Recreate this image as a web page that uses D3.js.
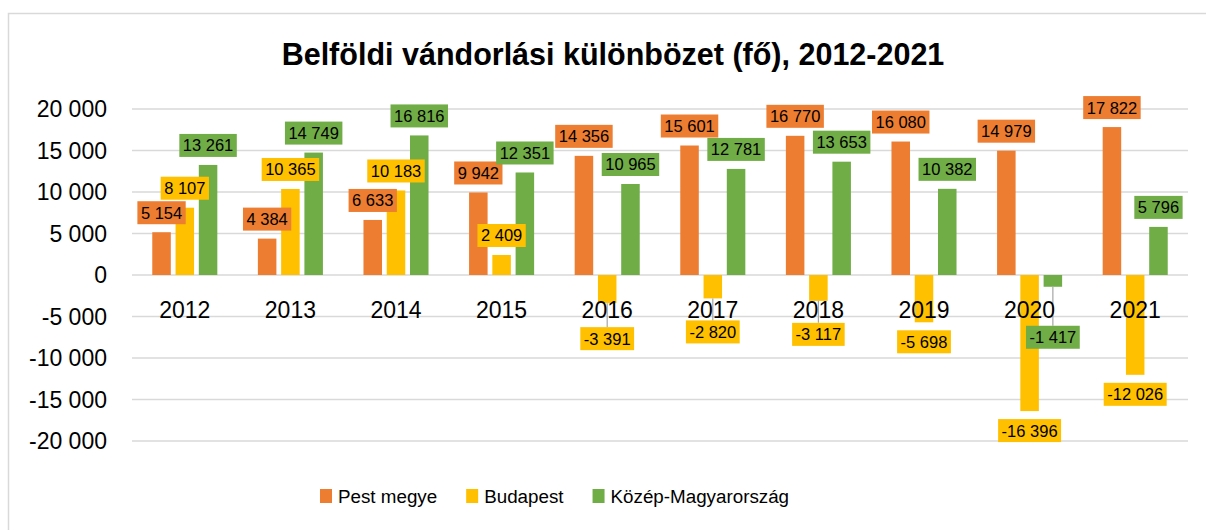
<!DOCTYPE html>
<html>
<head>
<meta charset="utf-8">
<script src="https://cdn.jsdelivr.net/npm/d3@7"></script>
<style>
body { margin: 0; background: #fff; }
text { font-family: "Liberation Sans", Arial, sans-serif; fill: #000; }
</style>
</head>
<body>
<svg id="chart"></svg>
<script>
var years = ["2012","2013","2014","2015","2016","2017","2018","2019","2020","2021"];
var seriesNames = ["Pest megye", "Budapest", "Közép-Magyarország"];
var pest = [5154, 4384, 6633, 9942, 14356, 15601, 16770, 16080, 14979, 17822];
var budapest = [8107, 10365, 10183, 2409, -3391, -2820, -3117, -5698, -16396, -12026];
var kozep = [13261, 14749, 16816, 12351, 10965, 12781, 13653, 10382, -1417, 5796];
var yTicks = [-20000, -15000, -10000, -5000, 0, 5000, 10000, 15000, 20000];

var colors = ["#ED7D31", "#FFC000", "#70AD47"];
var width = 1206, height = 530;
var plotLeft = 132, plotRight = 1188, plotTop = 109, plotBottom = 441;
var labelGap = 8;
var boxH = 23;
// labels that were dragged lower in the original (extra px), drawn with a leader line
var labelNudge = { "1-4": 16, "1-5": 14, "1-6": 14, "2-8": 31 };

var loc = d3.formatLocale({decimal: ",", thousands: " ", grouping: [3], currency: ["", ""], minus: "-"});
var fmt = loc.format(",d");

var svg = d3.select("#chart").attr("width", width).attr("height", height);

svg.append("rect")
	.attr("x", 8.5).attr("y", 13.5)
	.attr("width", 1212).attr("height", 530)
	.attr("fill", "#fff")
	.attr("stroke", "#d9d9d9").attr("stroke-width", 1.5);

var x = d3.scaleBand().domain(years).range([plotLeft, plotRight])
	.paddingInner(0.384).paddingOuter(0.192);
var xs = d3.scaleBand().domain(d3.range(3)).range([0, x.bandwidth()])
	.paddingInner(0.204).paddingOuter(0);
var y = d3.scaleLinear().domain([-20000, 20000]).range([plotBottom, plotTop]);

// gridlines
svg.append("g").selectAll("line").data(yTicks).enter()
	.append("line")
	.attr("x1", plotLeft).attr("x2", plotRight)
	.attr("y1", function(d) { return y(d); })
	.attr("y2", function(d) { return y(d); })
	.attr("stroke", "#d9d9d9").attr("stroke-width", 1.5);

// y tick labels
svg.append("g").selectAll("text").data(yTicks).enter()
	.append("text")
	.attr("x", 107)
	.attr("y", function(d) { return y(d); })
	.attr("dy", "0.36em")
	.attr("text-anchor", "end")
	.attr("font-size", 23)
	.text(function(d) { return fmt(d); });

var series = [pest, budapest, kozep];
var bars = [];
series.forEach(function(vals, s) {
	vals.forEach(function(v, i) {
		bars.push({s: s, i: i, v: v, key: s + "-" + i});
	});
});

function barX(d) { return x(years[d.i]) + xs(d.s); }

svg.append("g").selectAll("rect").data(bars).enter()
	.append("rect")
	.attr("x", barX)
	.attr("width", xs.bandwidth())
	.attr("y", function(d) { return y(Math.max(0, d.v)); })
	.attr("height", function(d) { return Math.abs(y(d.v) - y(0)); })
	.attr("fill", function(d) { return colors[d.s]; });

// leader lines
var nudged = bars.filter(function(d) { return labelNudge[d.key]; });
svg.append("g").selectAll("line").data(nudged).enter()
	.append("line")
	.attr("x1", function(d) { return barX(d) + xs.bandwidth() / 2; })
	.attr("x2", function(d) { return barX(d) + xs.bandwidth() / 2; })
	.attr("y1", function(d) { return y(d.v); })
	.attr("y2", function(d) { return y(d.v) + labelGap + labelNudge[d.key]; })
	.attr("stroke", "#a6a6a6").attr("stroke-width", 1.2);

// category labels
svg.append("g").selectAll("text").data(years).enter()
	.append("text")
	.attr("x", function(d) { return x(d) + x.bandwidth() / 2; })
	.attr("y", 318)
	.attr("text-anchor", "middle")
	.attr("font-size", 23)
	.text(function(d) { return d; });

// data labels
var lab = svg.append("g").selectAll("g").data(bars).enter()
	.append("g")
	.attr("transform", function(d) {
		var cx = barX(d) + xs.bandwidth() / 2;
		var cy;
		if (d.v >= 0) cy = y(d.v) - labelGap - boxH / 2;
		else cy = y(d.v) + labelGap + (labelNudge[d.key] || 0) + boxH / 2;
		return "translate(" + [cx, cy] + ")";
	});
lab.append("text")
	.attr("text-anchor", "middle")
	.attr("dy", "0.36em")
	.attr("font-size", 16.5)
	.text(function(d) { return fmt(d.v); });
lab.each(function(d) {
	var g = d3.select(this);
	var w = g.select("text").node().getComputedTextLength() + 7;
	g.insert("rect", "text")
		.attr("x", -w / 2).attr("y", -boxH / 2)
		.attr("width", w).attr("height", boxH)
		.attr("fill", colors[d.s]);
});

// title
svg.append("text")
	.attr("x", 613).attr("y", 65)
	.attr("text-anchor", "middle")
	.attr("font-size", 30.5)
	.attr("font-weight", "bold")
	.text("Belföldi vándorlási különbözet (fő), 2012-2021");

// legend
var legend = svg.append("g").attr("transform", "translate(320,503)");
var lx = 0;
seriesNames.forEach(function(name, s) {
	legend.append("rect")
		.attr("x", lx).attr("y", -14)
		.attr("width", 12).attr("height", 14)
		.attr("fill", colors[s]);
	var t = legend.append("text")
		.attr("x", lx + 18).attr("y", 0)
		.attr("font-size", 18.8)
		.text(name);
	lx += 18 + t.node().getComputedTextLength() + 29;
});
</script>
</body>
</html>
